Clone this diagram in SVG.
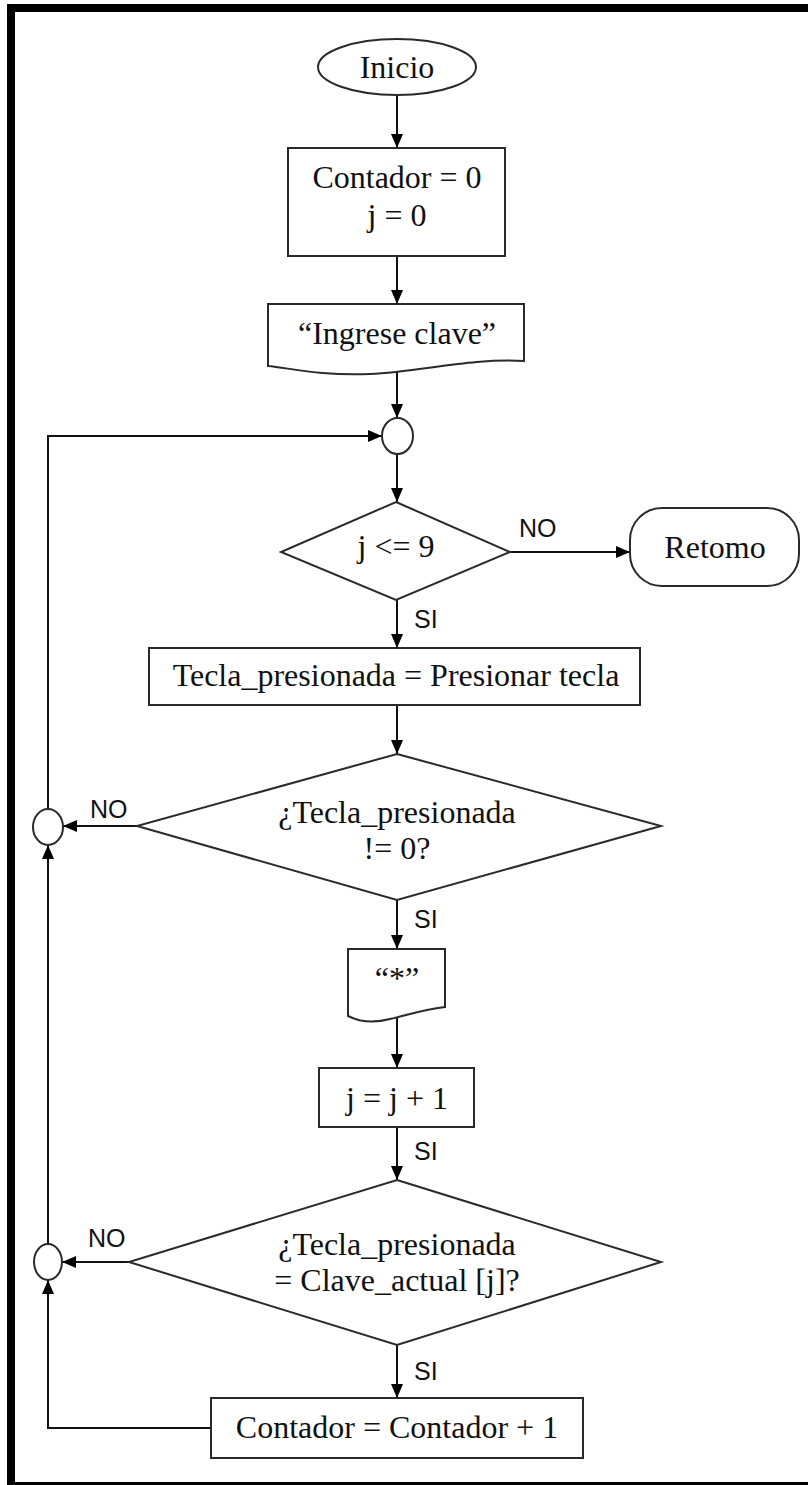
<svg xmlns="http://www.w3.org/2000/svg" width="808" height="1485" viewBox="0 0 808 1485">
  <style>
    .shape { fill: #ffffff; stroke: #2a2a2a; stroke-width: 2; }
    .t { font-family: "Liberation Serif", "Times New Roman", serif; font-size: 32px; fill: #111; text-anchor: middle; }
    .lbl { font-family: "Liberation Sans", Arial, sans-serif; font-size: 25px; fill: #111; }
    .wire { fill: none; stroke: #111; stroke-width: 2; marker-end: url(#arrow); }
    .wire-plain { fill: none; stroke: #222; stroke-width: 2; }
  </style>
  <defs>
    <marker id="arrow" markerUnits="userSpaceOnUse" markerWidth="14" markerHeight="12" refX="14" refY="6" orient="auto">
      <path d="M0,0 L14,6 L0,12 Z" fill="#000"/>
    </marker>
  </defs>

  <rect x="0" y="0" width="808" height="1485" fill="#ffffff"/>
  <!-- page frame -->
  <rect x="11" y="8" width="820" height="1478" fill="none" stroke="#000" stroke-width="8"/>

  <g id="connectors">
    <path class="wire" d="M397,95 V148"/>
    <path class="wire" d="M397,256 V304"/>
    <path class="wire" d="M397,369 V418"/>
    <path class="wire" d="M397,454 V502"/>
    <path class="wire" d="M510,552 H630"/>
    <path class="wire" d="M397,600 V648"/>
    <path class="wire" d="M397,705 V754"/>
    <path class="wire" d="M137,826 H63"/>
    <path class="wire" d="M48,809 V436 H382"/>
    <path class="wire" d="M397,900 V949"/>
    <path class="wire" d="M397,1018 V1068"/>
    <path class="wire" d="M397,1127 V1180"/>
    <path class="wire" d="M129,1262 H62"/>
    <path class="wire" d="M48,1244 V845"/>
    <path class="wire" d="M397,1345 V1398"/>
    <path class="wire" d="M211,1428 H48 V1280"/>
    <text class="lbl" x="519" y="537">NO</text>
    <text class="lbl" x="414" y="628">SI</text>
    <text class="lbl" x="90" y="818">NO</text>
    <text class="lbl" x="414" y="928">SI</text>
    <text class="lbl" x="414" y="1160">SI</text>
    <text class="lbl" x="88" y="1247">NO</text>
    <text class="lbl" x="414" y="1380">SI</text>
  </g>

  <g id="inicio">
    <ellipse class="shape" cx="397" cy="67" rx="79" ry="28"/>
    <text class="t" x="397" y="78">Inicio</text>
  </g>

  <g id="init-vars">
    <rect class="shape" x="288" y="148" width="217" height="108"/>
    <text class="t" x="397" y="188">Contador = 0</text>
    <text class="t" x="397" y="226">j = 0</text>
  </g>

  <g id="prompt">
    <path class="shape" d="M268,304 H524 V361 C470,358 420,372 370,374 C320,376 290,368 268,366 Z"/>
    <text class="t" x="397" y="344">“Ingrese clave”</text>
  </g>

  <g id="join-top">
    <ellipse class="shape" cx="397.5" cy="436" rx="15.5" ry="18"/>
  </g>

  <g id="check-j">
    <polygon class="shape" points="396,502 510,552 396,600 281,552"/>
    <text class="t" x="396" y="557">j &lt;= 9</text>
  </g>

  <g id="retorno">
    <rect class="shape" x="630" y="508" width="169" height="78" rx="32" ry="32"/>
    <text class="t" x="715" y="558">Retomo</text>
  </g>

  <g id="read-key">
    <rect class="shape" x="149" y="648" width="491" height="57"/>
    <text class="t" x="396" y="686">Tecla_presionada = Presionar tecla</text>
  </g>

  <g id="check-key">
    <polygon class="shape" points="397,754 661,826 397,900 137,826"/>
    <text class="t" x="397" y="823">¿Tecla_presionada</text>
    <text class="t" x="397" y="859">!= 0?</text>
  </g>

  <g id="join-1">
    <ellipse class="shape" cx="48" cy="827" rx="15" ry="18"/>
  </g>

  <g id="show-star">
    <path class="shape" d="M348,949 H445 V1007 C420,1010 405,1016 390,1019 C375,1023 360,1022 348,1016 Z"/>
    <text class="t" x="397" y="989">“*”</text>
  </g>

  <g id="inc-j">
    <rect class="shape" x="319" y="1068" width="155" height="59"/>
    <text class="t" x="397" y="1109">j = j + 1</text>
  </g>

  <g id="check-match">
    <polygon class="shape" points="397,1180 661,1262 397,1345 129,1262"/>
    <text class="t" x="397" y="1255">¿Tecla_presionada</text>
    <text class="t" x="397" y="1291">= Clave_actual [j]?</text>
  </g>

  <g id="join-2">
    <ellipse class="shape" cx="48" cy="1262" rx="14" ry="18"/>
  </g>

  <g id="inc-counter">
    <rect class="shape" x="211" y="1398" width="372" height="60"/>
    <text class="t" x="397" y="1438">Contador = Contador + 1</text>
  </g>
</svg>
